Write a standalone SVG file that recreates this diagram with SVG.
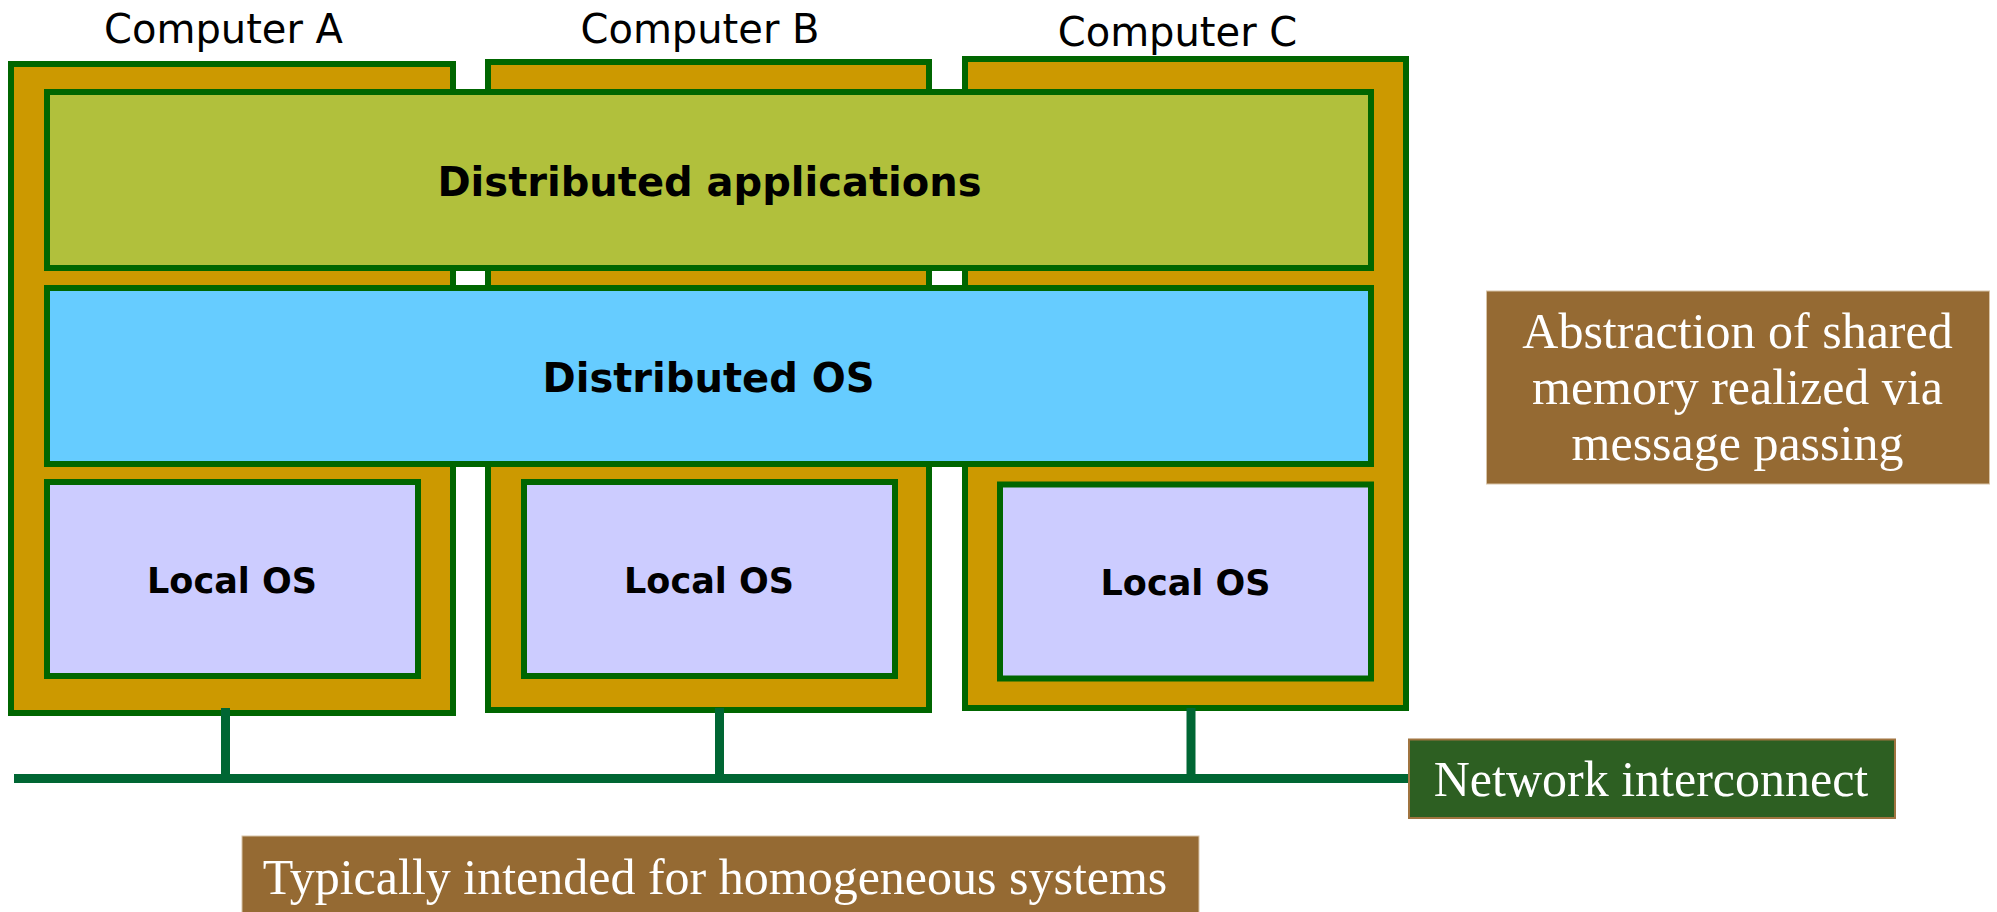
<svg xmlns="http://www.w3.org/2000/svg" width="1997" height="912" viewBox="0 0 1997 912">
<style>
.comp{fill:#CC9900;stroke:#006600;stroke-width:6}
.apps{fill:#B1C03C;stroke:#006600;stroke-width:6}
.dos{fill:#66CCFF;stroke:#006600;stroke-width:6}
.los{fill:#CCCCFF;stroke:#006600;stroke-width:6}
.title{font-family:"DejaVu Sans",sans-serif;font-size:40px;fill:#000;text-anchor:middle}
.bold{font-family:"DejaVu Sans",sans-serif;font-weight:bold;fill:#000;text-anchor:middle}
.note{font-family:"Liberation Serif",serif;font-size:50px;fill:#fff;text-anchor:middle}
.brown{fill:#956A33;stroke:#d8c4a8;stroke-width:1}
.wire{stroke:#006633;stroke-width:9;fill:none}
</style>
<rect width="1997" height="912" fill="#fff"/>
<g id="computer-a">
<rect class="comp" x="11" y="64" width="442" height="649"/>
<text class="title" x="223.5" y="43">Computer A</text>
</g>
<g id="computer-b">
<rect class="comp" x="488" y="62" width="441" height="648"/>
<text class="title" x="700" y="43">Computer B</text>
</g>
<g id="computer-c">
<rect class="comp" x="965" y="59" width="441" height="649"/>
<text class="title" x="1177.5" y="45.5">Computer C</text>
</g>
<g id="distributed-applications">
<rect class="apps" x="47" y="92" width="1324" height="176"/>
<text class="bold" x="709.5" y="196" font-size="40">Distributed applications</text>
</g>
<g id="distributed-os">
<rect class="dos" x="47" y="288" width="1324" height="176"/>
<text class="bold" x="708.5" y="392" font-size="40">Distributed OS</text>
</g>
<g id="local-os-a">
<rect class="los" x="47" y="482" width="371" height="194"/>
<text class="bold" x="232" y="593" font-size="35">Local OS</text>
</g>
<g id="local-os-b">
<rect class="los" x="524" y="482" width="371" height="194"/>
<text class="bold" x="709" y="593" font-size="35">Local OS</text>
</g>
<g id="local-os-c">
<rect class="los" x="1000" y="484.5" width="371" height="194"/>
<text class="bold" x="1185.5" y="595" font-size="35">Local OS</text>
</g>
<g id="connectors">
<line class="wire" x1="14" y1="778.5" x2="1408" y2="778.5"/>
<line class="wire" x1="225.5" y1="708" x2="225.5" y2="778"/>
<line class="wire" x1="719.5" y1="708" x2="719.5" y2="778"/>
<line class="wire" x1="1191" y1="708" x2="1191" y2="778"/>
</g>
<g id="network-interconnect">
<rect x="1409" y="739.5" width="486" height="78.5" fill="#2D5F22" stroke="#A07440" stroke-width="2"/>
<text class="note" x="1651" y="796">Network interconnect</text>
</g>
<g id="abstraction-note">
<rect class="brown" x="1486.5" y="291" width="503" height="193"/>
<text class="note" x="1737.5" y="348">Abstraction of shared</text>
<text class="note" x="1737.5" y="404">memory realized via</text>
<text class="note" x="1737.5" y="460">message passing</text>
</g>
<g id="homogeneous-note">
<rect class="brown" x="242" y="836" width="957" height="90"/>
<text class="note" x="715" y="894">Typically intended for homogeneous systems</text>
</g>
</svg>
